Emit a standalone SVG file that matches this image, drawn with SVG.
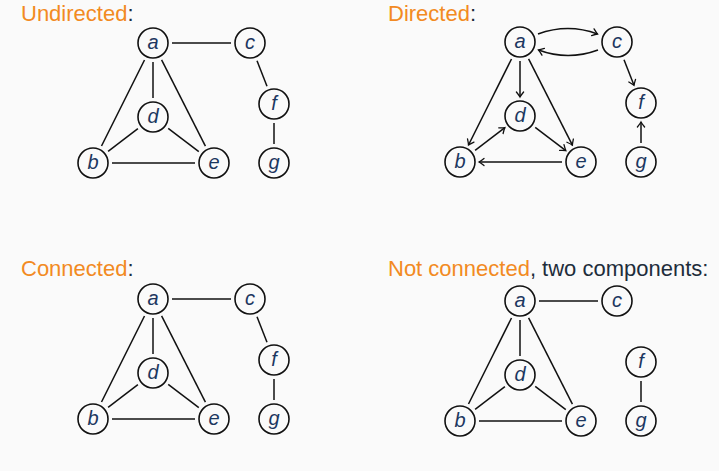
<svg xmlns="http://www.w3.org/2000/svg" width="719" height="471" viewBox="0 0 719 471">
<style>
.bg{fill:#fafafa}
.title{font-family:"Liberation Sans",Arial,sans-serif;font-size:22px;fill:#1e2d3b}
.hl{fill:#f28a22}
.node circle{fill:none;stroke:#111;stroke-width:1.6}
.node text{font-family:"Liberation Sans",Arial,sans-serif;font-style:italic;font-size:20px;fill:#1c3760;text-anchor:middle}
.edges line,.edges path{stroke:#111;stroke-width:1.5;fill:none}
.arr line,.arr path{marker-end:url(#ah)}
</style>
<defs>
<marker id="ah" markerUnits="userSpaceOnUse" viewBox="-6 -5 8 10" markerWidth="8" markerHeight="10" refX="0" refY="0" orient="auto">
<path d="M-5,-3.6 Q-1.5,-0.8 0,0 Q-1.5,0.8 -5,3.6" fill="none" stroke="#111" stroke-width="1.3" stroke-linecap="round"/>
</marker>
</defs>
<rect class="bg" x="0" y="0" width="719" height="471"/>

<!-- Titles -->
<text class="title" x="21" y="21"><tspan class="hl">Undirected</tspan>:</text>
<text class="title" x="388" y="21"><tspan class="hl">Directed</tspan>:</text>
<text class="title" x="21" y="276"><tspan class="hl">Connected</tspan>:</text>
<text class="title" x="388" y="276"><tspan class="hl">Not connected</tspan>, two components:</text>

<!-- Undirected -->
<g id="undirected">
<g class="edges" id="undirected-edges">
<line x1="172" y1="43" x2="231" y2="43"/>
<line x1="153" y1="62" x2="153" y2="98"/>
<line x1="144.5" y1="60" x2="101.5" y2="146"/>
<line x1="161.6" y1="59.9" x2="205.4" y2="146.1"/>
<line x1="137.9" y1="128.6" x2="108.1" y2="151.4"/>
<line x1="168.2" y1="128.4" x2="198.8" y2="151.6"/>
<line x1="112" y1="163" x2="195" y2="163"/>
<line x1="257" y1="60.7" x2="267" y2="86.3"/>
<line x1="274" y1="123" x2="274" y2="144"/>
</g>
<g id="undirected-nodes">
<g id="u-a" class="node"><circle cx="153" cy="43" r="15"/><text x="153" y="49">a</text></g>
<g id="u-c" class="node"><circle cx="250" cy="43" r="15"/><text x="250" y="49">c</text></g>
<g id="u-d" class="node"><circle cx="153" cy="117" r="15"/><text x="153" y="123">d</text></g>
<g id="u-f" class="node"><circle cx="274" cy="104" r="15"/><text x="274" y="110">f</text></g>
<g id="u-b" class="node"><circle cx="93" cy="163" r="15"/><text x="93" y="169">b</text></g>
<g id="u-e" class="node"><circle cx="214" cy="163" r="15"/><text x="214" y="169">e</text></g>
<g id="u-g" class="node"><circle cx="274" cy="163" r="15"/><text x="274" y="169">g</text></g>
</g>
</g>

<!-- Directed -->
<g id="directed" transform="translate(367,-1)">
<g class="edges arr" id="directed-edges">
<path d="M171,35 Q201,24 230.5,35"/>
<path d="M231,51 Q201,62 171.5,51"/>
<line x1="153" y1="62" x2="153" y2="98"/>
<line x1="144.5" y1="60" x2="101.5" y2="146"/>
<line x1="161.6" y1="59.9" x2="205.4" y2="146.1"/>
<line x1="108.1" y1="151.4" x2="137.9" y2="128.6"/>
<line x1="168.2" y1="128.4" x2="198.8" y2="151.6"/>
<line x1="195" y1="163" x2="112" y2="163"/>
<line x1="257" y1="60.7" x2="267" y2="86.3"/>
<line x1="274" y1="144" x2="274" y2="123"/>
</g>
<g id="directed-nodes">
<g id="d-a" class="node"><circle cx="153" cy="43" r="15"/><text x="153" y="49">a</text></g>
<g id="d-c" class="node"><circle cx="250" cy="43" r="15"/><text x="250" y="49">c</text></g>
<g id="d-d" class="node"><circle cx="153" cy="117" r="15"/><text x="153" y="123">d</text></g>
<g id="d-f" class="node"><circle cx="274" cy="104" r="15"/><text x="274" y="110">f</text></g>
<g id="d-b" class="node"><circle cx="93" cy="163" r="15"/><text x="93" y="169">b</text></g>
<g id="d-e" class="node"><circle cx="214" cy="163" r="15"/><text x="214" y="169">e</text></g>
<g id="d-g" class="node"><circle cx="274" cy="163" r="15"/><text x="274" y="169">g</text></g>
</g>
</g>

<!-- Connected -->
<g id="connected" transform="translate(0,256)">
<g class="edges" id="connected-edges">
<line x1="172" y1="43" x2="231" y2="43"/>
<line x1="153" y1="62" x2="153" y2="98"/>
<line x1="144.5" y1="60" x2="101.5" y2="146"/>
<line x1="161.6" y1="59.9" x2="205.4" y2="146.1"/>
<line x1="137.9" y1="128.6" x2="108.1" y2="151.4"/>
<line x1="168.2" y1="128.4" x2="198.8" y2="151.6"/>
<line x1="112" y1="163" x2="195" y2="163"/>
<line x1="257" y1="60.7" x2="267" y2="86.3"/>
<line x1="274" y1="123" x2="274" y2="144"/>
</g>
<g id="connected-nodes">
<g id="c-a" class="node"><circle cx="153" cy="43" r="15"/><text x="153" y="49">a</text></g>
<g id="c-c" class="node"><circle cx="250" cy="43" r="15"/><text x="250" y="49">c</text></g>
<g id="c-d" class="node"><circle cx="153" cy="117" r="15"/><text x="153" y="123">d</text></g>
<g id="c-f" class="node"><circle cx="274" cy="104" r="15"/><text x="274" y="110">f</text></g>
<g id="c-b" class="node"><circle cx="93" cy="163" r="15"/><text x="93" y="169">b</text></g>
<g id="c-e" class="node"><circle cx="214" cy="163" r="15"/><text x="214" y="169">e</text></g>
<g id="c-g" class="node"><circle cx="274" cy="163" r="15"/><text x="274" y="169">g</text></g>
</g>
</g>

<!-- Not connected -->
<g id="not-connected" transform="translate(367,258)">
<g class="edges" id="not-connected-edges">
<line x1="172" y1="43" x2="231" y2="43"/>
<line x1="153" y1="62" x2="153" y2="98"/>
<line x1="144.5" y1="60" x2="101.5" y2="146"/>
<line x1="161.6" y1="59.9" x2="205.4" y2="146.1"/>
<line x1="137.9" y1="128.6" x2="108.1" y2="151.4"/>
<line x1="168.2" y1="128.4" x2="198.8" y2="151.6"/>
<line x1="112" y1="163" x2="195" y2="163"/>
<line x1="274" y1="123" x2="274" y2="144"/>
</g>
<g id="not-connected-nodes">
<g id="n-a" class="node"><circle cx="153" cy="43" r="15"/><text x="153" y="49">a</text></g>
<g id="n-c" class="node"><circle cx="250" cy="43" r="15"/><text x="250" y="49">c</text></g>
<g id="n-d" class="node"><circle cx="153" cy="117" r="15"/><text x="153" y="123">d</text></g>
<g id="n-f" class="node"><circle cx="274" cy="104" r="15"/><text x="274" y="110">f</text></g>
<g id="n-b" class="node"><circle cx="93" cy="163" r="15"/><text x="93" y="169">b</text></g>
<g id="n-e" class="node"><circle cx="214" cy="163" r="15"/><text x="214" y="169">e</text></g>
<g id="n-g" class="node"><circle cx="274" cy="163" r="15"/><text x="274" y="169">g</text></g>
</g>
</g>
</svg>
